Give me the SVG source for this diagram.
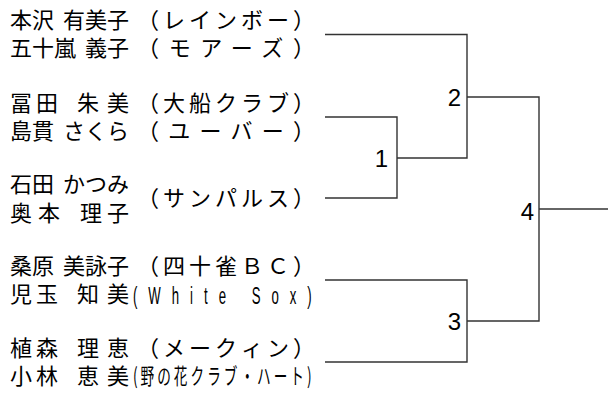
<svg xmlns="http://www.w3.org/2000/svg" width="608" height="394" viewBox="0 0 608 394">
<style>
.n{font-family:"Noto Sans CJK JP","Noto Sans",sans-serif;font-size:22px;fill:#000}
.g{font-family:"Noto Sans CJK JP","Noto Sans",sans-serif;font-size:22px;fill:#000;text-anchor:end}
.t{font-family:"Noto Sans CJK JP","Noto Sans",sans-serif;font-size:22px;fill:#000}
.c{font-family:"Liberation Sans",Arial,sans-serif;font-size:24px;fill:#000}
.cj{font-family:"Noto Sans CJK JP",sans-serif;font-size:22px;fill:#000}
.lbl{font-family:"Liberation Sans",Arial,sans-serif;font-size:24px;fill:#000;text-anchor:end}
.ln{fill:none;stroke:#333;stroke-width:1.4}
</style>
<g id="p1"><text class="n" x="10" y="28">本沢</text><text class="g" x="129" y="28">有美子</text><text class="t" x="137" y="28" textLength="178" lengthAdjust="spacing">（レインボー）</text></g>
<g id="p2"><text class="n" x="10" y="56">五十嵐</text><text class="g" x="129" y="56">義子</text><text class="t" x="137" y="56" textLength="178" lengthAdjust="spacing">（モアーズ）</text></g>
<g id="p3"><text class="n" x="10" y="111" textLength="48" lengthAdjust="spacing">冨田</text><text class="n" x="77" y="111" textLength="52" lengthAdjust="spacing">朱美</text><text class="t" x="137" y="111" textLength="178" lengthAdjust="spacing">（大船クラブ）</text></g>
<g id="p4"><text class="n" x="10" y="139">島貫</text><text class="g" x="129" y="139">さくら</text><text class="t" x="137" y="139" textLength="178" lengthAdjust="spacing">（ユーバー）</text></g>
<g id="p5"><text class="n" x="10" y="192">石田</text><text class="g" x="129" y="192">かつみ</text></g>
<g id="p6"><text class="n" x="10" y="221" textLength="50" lengthAdjust="spacing">奥本</text><text class="n" x="80" y="221" textLength="49" lengthAdjust="spacing">理子</text><text class="t" x="137" y="206" textLength="178" lengthAdjust="spacing">（サンパルス）</text></g>
<g id="p7"><text class="n" x="10" y="274">桑原</text><text class="g" x="129" y="274">美詠子</text><text class="t" x="137" y="274" textLength="178" lengthAdjust="spacing">（四十雀ＢＣ）</text></g>
<g id="p8"><text class="n" x="10" y="302" textLength="48" lengthAdjust="spacing">児玉</text><text class="n" x="77" y="302" textLength="52" lengthAdjust="spacing">知美</text><text class="c" transform="translate(133,304) scale(0.55,1)" x="0" y="0" textLength="325" lengthAdjust="spacing">(White Sox)</text></g>
<g id="p9"><text class="n" x="10" y="356" textLength="48" lengthAdjust="spacing">植森</text><text class="n" x="77" y="356" textLength="52" lengthAdjust="spacing">理恵</text><text class="t" x="137" y="356" textLength="178" lengthAdjust="spacing">（メークィン）</text></g>
<g id="p10"><text class="n" x="10" y="384" textLength="48" lengthAdjust="spacing">小林</text><text class="n" x="77" y="384" textLength="52" lengthAdjust="spacing">恵美</text><text class="cj" transform="translate(133,384) scale(0.62,1)" x="0" y="0" textLength="288" lengthAdjust="spacing">(野の花クラブ・ハート)</text></g>
<g id="connectors">
<polyline class="ln" points="325,34.5 467,34.5 467,158 397,158"/>
<polyline class="ln" points="325,117 397,117 397,198 325,198"/>
<polyline class="ln" points="325,280 467,280 467,362 325,362"/>
<polyline class="ln" points="467,97 539,97 539,321 467,321"/>
<line class="ln" x1="539" y1="209" x2="608" y2="209"/>
</g>
<g id="m1"><text class="lbl" x="388" y="167">1</text></g>
<g id="m2"><text class="lbl" x="461" y="106">2</text></g>
<g id="m3"><text class="lbl" x="461" y="330">3</text></g>
<g id="m4"><text class="lbl" x="534" y="220">4</text></g>
</svg>
